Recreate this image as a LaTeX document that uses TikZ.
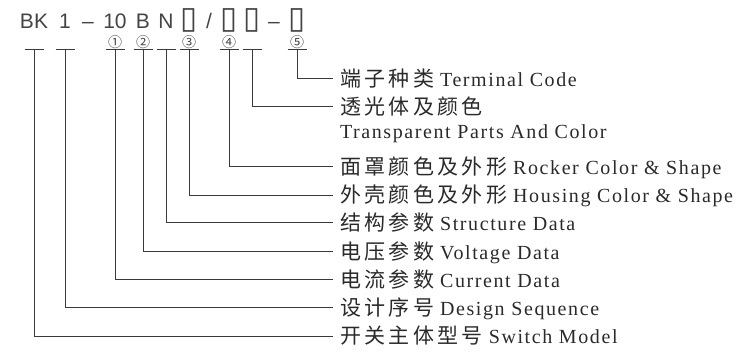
\documentclass[tikz,border=0pt]{standalone}
\usepackage{fontspec}
\setmainfont{Liberation Serif}[LetterSpace=8]
\newfontfamily\cjk{Noto Sans CJK SC}[LetterSpace=16]
\newfontfamily\numfont{Noto Sans CJK SC}
\newfontfamily\hdfont{Liberation Sans}
\newfontfamily\symfont{DejaVu Sans}
\usepackage{xcolor}
\usepackage{tikz}
\usetikzlibrary{positioning}

\definecolor{txtdark}{HTML}{2A2A2A}
\definecolor{hdgray}{HTML}{444444}
\definecolor{lngray}{HTML}{3A3A3A}

\newcommand{\cn}[1]{{\cjk\fontsize{21}{22}\selectfont #1}\hspace{6pt}}
\newcommand{\bx}{{\symfont\fontsize{31}{32}\selectfont ▯}}

\tikzset{
  head/.style={anchor=base, inner sep=0, text=hdgray, font=\hdfont\fontsize{21}{24}\selectfont},
  numc/.style={inner sep=0, text=hdgray, font=\numfont\fontsize{14}{16}\selectfont},
  lab/.style={anchor=west, inner sep=0, outer xsep=7pt, text=txtdark,
    text height=15.5pt, text depth=0.5pt, font=\fontsize{20}{22}\selectfont},
  conn/.style={draw=lngray, line width=0.8pt},
}

\begin{document}
\begin{tikzpicture}[x=1pt, y=-1pt]
    % 1. 画布
    \useasboundingbox (0,0) rectangle (755,351);

    \def\ty{49.5}  % T 形顶边
    \def\tw{9.5}   % T 形半宽
    \def\lx{333}   % 引线终点

    % 2. 型号
    \node[head] (hBK) at (34,28) {BK};
    \node[head] (hA)  at (65,28) {1};
    \node[head] (hD1) at (88,28) {–};
    \node[head] (hB)  at (115,28) {10};
    \node[head] (hC)  at (143,28) {B};
    \node[head] (hN)  at (166,28) {N};
    \node[head] (hE)  at (189,28) {\bx};
    \node[head] (hS)  at (209,28) {/};
    \node[head] (hF)  at (229,28) {\bx};
    \node[head] (hG)  at (252,28) {\bx};
    \node[head] (hD2) at (274,28) {–};
    \node[head] (hH)  at (297,28) {\bx};

    % 3. 圆圈序号
    \node[numc] (n1) at (115,42) {①};
    \node[numc] (n2) at (143,42) {②};
    \node[numc] (n3) at (189,42) {③};
    \node[numc] (n4) at (229,42) {④};
    \node[numc] (n5) at (297,42) {⑤};

    % 4. 说明文字
    \node[lab] (l9) at (\lx,78.5)  {\cn{端子种类}Terminal Code};
    \node[lab] (l8) at (\lx,106.5) {\cn{透光体及颜色}};
    \node[lab] (l8b) at (\lx,130.5) {Transparent Parts And Color};
    \node[lab] (l7) at (\lx,166.5) {\cn{面罩颜色及外形}Rocker Color \& Shape};
    \node[lab] (l6) at (\lx,195)   {\cn{外壳颜色及外形}Housing Color \& Shape};
    \node[lab] (l5) at (\lx,222.5) {\cn{结构参数}Structure Data};
    \node[lab] (l4) at (\lx,251.5) {\cn{电压参数}Voltage Data};
    \node[lab] (l3) at (\lx,279.5) {\cn{电流参数}Current Data};
    \node[lab] (l2) at (\lx,307.5) {\cn{设计序号}Design Sequence};
    \node[lab] (l1) at (\lx,336)   {\cn{开关主体型号}Switch Model};

    % 5. T 形引线
    \foreach \x/\i in {34/1, 65/2, 115/3, 143/4, 166/5, 189/6, 229/7, 252/8, 297/9} {
        \coordinate (t\i) at (\x,\ty);
        \draw[conn] ([xshift=-\tw pt]t\i) -- ([xshift=\tw pt]t\i);
        \draw[conn] (t\i) |- (l\i.west);
    }

\end{tikzpicture}
\end{document}
